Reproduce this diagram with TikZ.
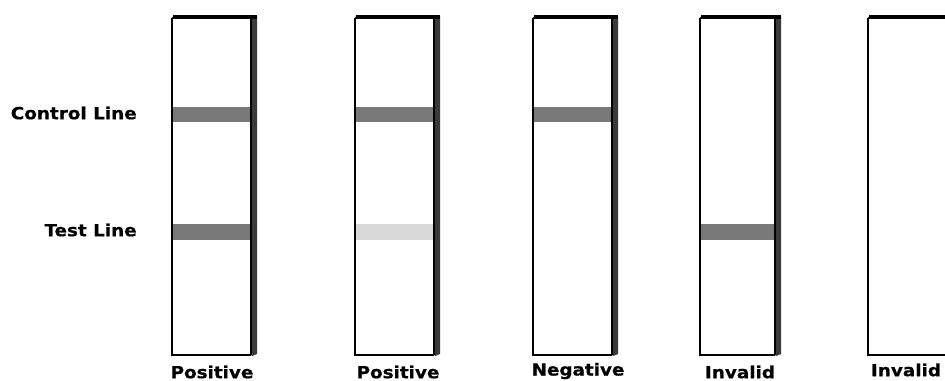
\documentclass[tikz,border=0pt]{standalone}
\usepackage{fontspec}
\newfontfamily\lblfont[FakeStretch=1.1,FakeBold=0.6]{DejaVu Sans Bold}
\definecolor{bandgray}{HTML}{787878}
\definecolor{faintgray}{HTML}{D8D8D8}
\definecolor{sidegray}{HTML}{3A3A3A}
\tikzset{
  lbl/.style={font=\lblfont\fontsize{9.5}{10}\selectfont,inner sep=0pt},
  stripedge/.style={line width=1.1pt,black}
}
\begin{document}
\begin{tikzpicture}[x=0.02cm,y=-0.02cm]
\useasboundingbox[fill=white] (0,0) rectangle (945,381);
\begin{scope}
\clip (0,0) rectangle (945,381);
% strips: left edge / right edge of the front face
\foreach \l/\r in {172/251,355/434,533/612,700/775,868/975}{
  \fill[white] (\l,17) rectangle (\r,355);
  \fill[sidegray] (\r,17) -- (\r+6,16) -- (\r+6,354) -- (\r+1,356) -- cycle;
  \draw[stripedge] (\r,355) -- (\l,355) -- (\l,19) -- (\l+2,17) -- (\r,17) -- (\r,355);
  \draw[line width=2pt] (\l+1,17) -- (\r+6,17);
}
\end{scope}
% control and test bands
\foreach \l/\r in {172/251,355/434,533/612}
  \fill[bandgray] (\l+1,107) rectangle (\r-1,122);
\foreach \l/\r in {172/251,700/775}
  \fill[bandgray] (\l+1,224) rectangle (\r-1,240);
\fill[faintgray] (356,224) rectangle (433,240);
% labels
\node[lbl,anchor=east] (ctrl) at (137,113) {Control Line};
\node[lbl,anchor=east] (test) at (137,230) {Test Line};
\node[lbl] (pos1) at (212,372) {Positive};
\node[lbl] (pos2) at (398,372) {Positive};
\node[lbl] (neg) at (578,371) {Negative};
\node[lbl] (inv1) at (740,372) {Invalid};
\node[lbl] (inv2) at (906,370) {Invalid};
\end{tikzpicture}
\end{document}
